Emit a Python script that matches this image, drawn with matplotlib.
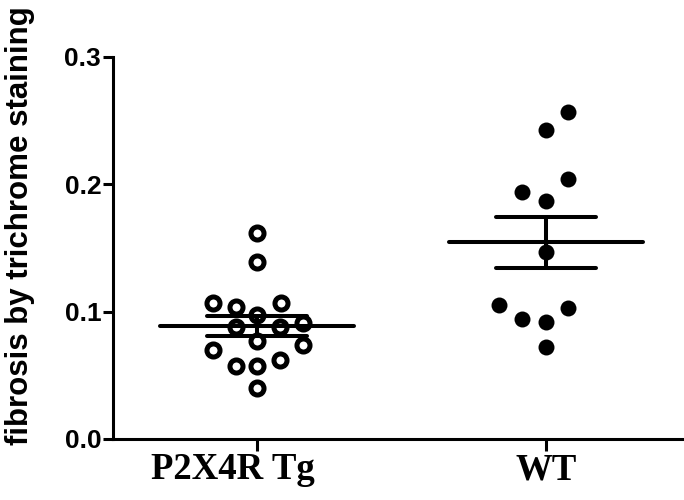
import numpy as np
import matplotlib
matplotlib.use("Agg")
import matplotlib.pyplot as plt
from matplotlib.transforms import ScaledTranslation

# ---- data ----
groups = ["P2X4R Tg", "WT"]
tg_values = [0.162, 0.139, 0.107, 0.104, 0.107, 0.097, 0.088, 0.088, 0.091,
             0.077, 0.074, 0.070, 0.057, 0.057, 0.062, 0.040]
tg_offsets = [0.0, 0.0, -0.153, -0.074, 0.083, 0.0, -0.074, 0.08, 0.16,
              0.0, 0.16, -0.153, -0.074, 0.0, 0.08, 0.0]
wt_values = [0.257, 0.243, 0.204, 0.194, 0.187, 0.147, 0.105, 0.103, 0.094,
             0.092, 0.072]
wt_offsets = [0.076, 0.0, 0.076, -0.083, 0.0, 0.0, -0.163, 0.076, -0.083,
              0.0, 0.0]
yticks = [0.0, 0.1, 0.2, 0.3]
ytick_labels = ["0.0", "0.1", "0.2", "0.3"]
ylabel = "fibrosis by trichrome staining"

fig = plt.figure(figsize=(6.84, 5), dpi=100)
ax = fig.add_axes([0.1652, 0.122, 0.8348, 0.764])

# points
ax.plot(np.array(tg_offsets) + 0, tg_values, "o", ms=9.4, mfc="none",
        mec="black", mew=3.6, zorder=3)
ax.plot(np.array(wt_offsets) + 1, wt_values, "o", ms=11.5, mfc="black",
        mec="black", mew=0, zorder=3)

# mean +- SEM
for i, vals in enumerate([tg_values, wt_values]):
    v = np.array(vals)
    m = v.mean()
    sem = v.std(ddof=1) / np.sqrt(len(v))
    ax.hlines(m, i - 0.337, i + 0.337, color="black", lw=2.9,
              capstyle="round", zorder=4)
    ax.hlines([m - sem, m + sem], i - 0.173, i + 0.173, color="black",
              lw=2.9, capstyle="round", zorder=4)
    ax.vlines(i, m - sem, m + sem, color="black", lw=2.9, zorder=4)

ax.set_ylim(0, 0.3)
ax.set_xlim(-0.498, 1.4775)
for s in ["top", "right"]:
    ax.spines[s].set_visible(False)
for s in ["left", "bottom"]:
    ax.spines[s].set_linewidth(2.2)
    ax.spines[s].set_color("black")

ax.set_yticks(yticks)
ax.set_yticklabels(ytick_labels, fontfamily="Liberation Sans",
                   fontweight="bold", fontsize=19)
ax.set_xticks([0, 1])
ax.set_xticklabels(groups, fontfamily="Liberation Serif",
                   fontweight="bold", fontsize=26.5)
ax.tick_params(axis="y", direction="out", length=7, width=2.2, pad=1.5)
ax.tick_params(axis="x", direction="out", length=8.5, width=2.2, pad=1)

# first x label is shifted left in the reference
lbl = ax.get_xticklabels()[0]
lbl.set_transform(lbl.get_transform() +
                  ScaledTranslation(-24 / 100, 0, fig.dpi_scale_trans))

fig.text(20 / 684, 1 - 226 / 500, ylabel, rotation=90, ha="center",
         va="center", fontfamily="Liberation Sans", fontweight="bold",
         fontsize=22.5)

fig.savefig("out.png", dpi=100, facecolor="white")
